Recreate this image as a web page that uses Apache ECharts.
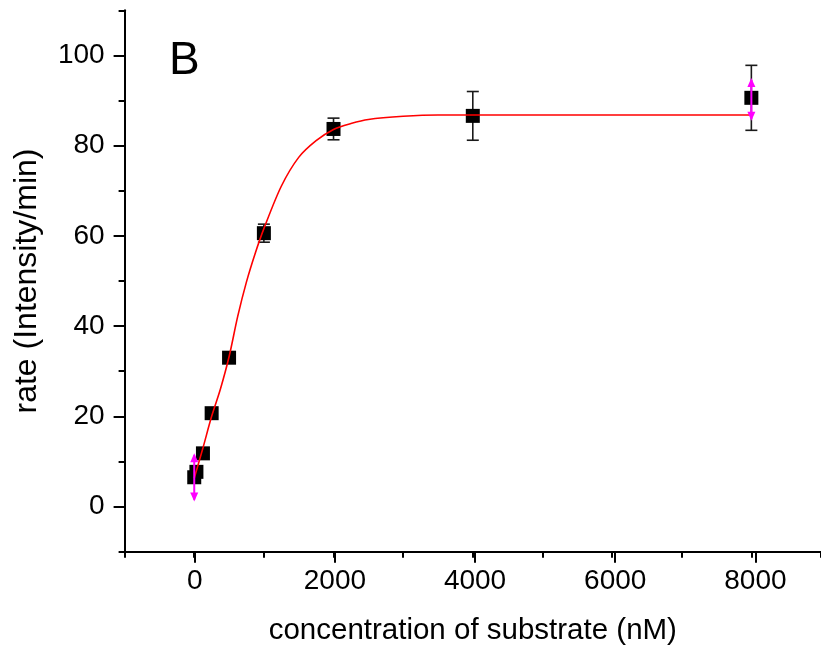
<!DOCTYPE html>
<html>
<head>
<meta charset="utf-8">
<title>Rate vs substrate concentration</title>
<script src="https://cdn.jsdelivr.net/npm/echarts@6/dist/echarts.min.js"></script>
<style>
  html, body { margin: 0; padding: 0; background: #fff; }
  #chart { width: 821px; height: 651px; }
</style>
</head>
<body>
<div id="chart"></div>
<script>
// Measured points: substrate concentration (nM), rate and its error
const concentration = [0, 31.25, 125, 250, 500, 1000, 2000, 4000, 8000];
const rate = [6.5, 7.7, 11.8, 20.7, 33.0, 60.6, 83.7, 86.6, 90.6];
const rateErr = [0.5, 0.5, 0.8, 0.8, 0.8, 2.0, 2.4, 5.4, 7.2];

// Secondary (magenta) range markers
const rangeX = [0, 8000];
const rangeLow = [1.1, 85.5];
const rangeHigh = [11.8, 95.0];

// Fitted curve
const fitX = [0, 125, 250, 375, 500, 625, 750, 875, 1000, 1250, 1500, 1750, 2000, 2250, 2500, 3000, 3500, 4000, 5000, 6000, 7000, 8000];
const fitY = [6.3, 13.0, 20.0, 26.0, 33.2, 42.2, 49.8, 56.1, 61.6, 71.0, 77.4, 81.1, 83.6, 84.9, 85.8, 86.5, 86.8, 86.8, 86.8, 86.8, 86.8, 86.8];

// Axis tick labels
const xTickLabels = [0, 2000, 4000, 6000, 8000];
const yTickLabels = [0, 20, 40, 60, 80, 100];

const FONT = "'Liberation Sans', Arial, sans-serif";
const AXIS_COLOR = '#000';

const chart = echarts.init(document.getElementById('chart'), null, { renderer: 'canvas' });

const pointData = concentration.map((c, i) => [c, rate[i]]);
const errData = concentration.map((c, i) => [c, rate[i], rateErr[i]]);
const rangeData = rangeX.map((c, i) => [c, rangeLow[i], rangeHigh[i]]);
const fitData = fitX.map((c, i) => [c, fitY[i]]);

const minorTickStyle = { show: true, length: 6, inside: false, lineStyle: { color: AXIS_COLOR, width: 2 } };
const majorTickStyle = { show: true, length: 11, inside: false, lineStyle: { color: AXIS_COLOR, width: 2 } };

chart.setOption({
  backgroundColor: '#fff',
  animation: false,
  grid: [
    // main plotting area: x -1000..9000, y -10..110
    { left: 124.6, top: 10.3, width: 700.9, height: 541.4 },
    // labelled range: x 0..8000, y 0..100 (carries long ticks and labels)
    { left: 194.7, top: 55.4, width: 560.7, height: 451.3 }
  ],
  xAxis: [
    {
      type: 'value', gridIndex: 0, min: -1000, max: 9000, interval: 1000,
      axisLine: { show: true, onZero: false, lineStyle: { color: AXIS_COLOR, width: 2 } },
      axisTick: minorTickStyle,
      axisLabel: { show: false },
      splitLine: { show: false },
      name: 'concentration of substrate (nM)',
      nameLocation: 'middle',
      nameGap: 64,
      nameTextStyle: { fontFamily: FONT, fontSize: 29.5, color: '#000' }
    },
    {
      type: 'value', gridIndex: 1, min: 0, max: 8000, interval: 2000,
      offset: 45.1,
      axisLine: { show: false, onZero: false },
      axisTick: majorTickStyle,
      axisLabel: {
        show: true, margin: 15, fontFamily: FONT, fontSize: 28, color: '#000',
        formatter: v => (xTickLabels.indexOf(v) >= 0 ? String(v) : '')
      },
      splitLine: { show: false }
    }
  ],
  yAxis: [
    {
      type: 'value', gridIndex: 0, min: -10, max: 110, interval: 10,
      axisLine: { show: true, onZero: false, lineStyle: { color: AXIS_COLOR, width: 2 } },
      axisTick: minorTickStyle,
      axisLabel: { show: false },
      splitLine: { show: false },
      name: 'rate (Intensity/min)',
      nameLocation: 'middle',
      nameGap: 81,
      nameRotate: 90,
      nameTextStyle: { fontFamily: FONT, fontSize: 32, color: '#000' }
    },
    {
      type: 'value', gridIndex: 1, min: 0, max: 100, interval: 20,
      offset: 70.1,
      axisLine: { show: false, onZero: false },
      axisTick: majorTickStyle,
      axisLabel: {
        show: true, margin: 20, fontFamily: FONT, fontSize: 28, color: '#000',
        formatter: v => (yTickLabels.indexOf(v) >= 0 ? String(v) : '')
      },
      splitLine: { show: false }
    }
  ],
  graphic: [
    {
      type: 'text', left: 169, top: 38, z: 100,
      style: { text: 'B', fontFamily: FONT, fontSize: 46, fill: '#000' }
    }
  ],
  series: [
    {
      // vertical error bars with caps
      type: 'custom', xAxisIndex: 0, yAxisIndex: 0, z: 2,
      data: errData,
      encode: { x: 0, y: 1 },
      renderItem: (params, api) => {
        const x = api.value(0), y = api.value(1), e = api.value(2);
        const top = api.coord([x, y + e]);
        const bot = api.coord([x, y - e]);
        const hw = 6;
        const st = { stroke: '#1a1a1a', lineWidth: 1.6 };
        return {
          type: 'group',
          children: [
            { type: 'line', shape: { x1: top[0], y1: top[1], x2: bot[0], y2: bot[1] }, style: st },
            { type: 'line', shape: { x1: top[0] - hw, y1: top[1], x2: top[0] + hw, y2: top[1] }, style: st },
            { type: 'line', shape: { x1: bot[0] - hw, y1: bot[1], x2: bot[0] + hw, y2: bot[1] }, style: st }
          ]
        };
      }
    },
    {
      type: 'scatter', xAxisIndex: 0, yAxisIndex: 0, z: 3,
      symbol: 'rect', symbolSize: 14,
      itemStyle: { color: '#000', opacity: 1 },
      data: pointData
    },
    {
      type: 'line', xAxisIndex: 0, yAxisIndex: 0, z: 4,
      data: fitData,
      showSymbol: false,
      smooth: 0.3,
      lineStyle: { color: '#ff0000', width: 1.6 }
    },
    {
      // magenta double-headed range arrows
      type: 'custom', xAxisIndex: 0, yAxisIndex: 0, z: 5,
      data: rangeData,
      encode: { x: 0, y: [1, 2] },
      renderItem: (params, api) => {
        const x = api.value(0);
        const lo = api.coord([x, api.value(1)]);
        const hi = api.coord([x, api.value(2)]);
        const c = '#ff00ff';
        const w = 4, h = 9;
        return {
          type: 'group',
          children: [
            { type: 'line', shape: { x1: hi[0], y1: hi[1] + 2, x2: lo[0], y2: lo[1] - 2 }, style: { stroke: c, lineWidth: 2 } },
            { type: 'polygon', shape: { points: [[hi[0], hi[1]], [hi[0] - w, hi[1] + h], [hi[0] + w, hi[1] + h]] }, style: { fill: c } },
            { type: 'polygon', shape: { points: [[lo[0], lo[1]], [lo[0] - w, lo[1] - h], [lo[0] + w, lo[1] - h]] }, style: { fill: c } }
          ]
        };
      }
    }
  ]
});
</script>
</body>
</html>
